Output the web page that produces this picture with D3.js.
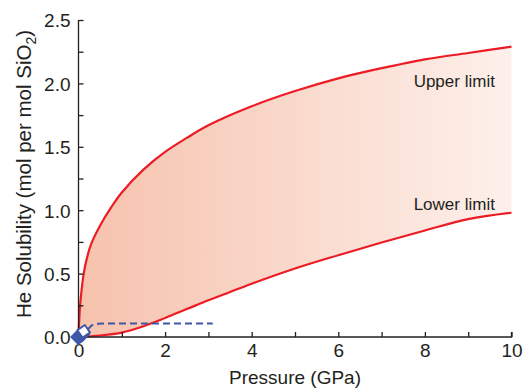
<!DOCTYPE html>
<html>
<head>
<meta charset="utf-8">
<script src="https://cdn.jsdelivr.net/npm/d3@7"></script>
<style>
  body { margin: 0; background: #fff; }
  svg { display: block; }
  text { font-family: "Liberation Sans", Arial, Helvetica, sans-serif; fill: #231f20; }
</style>
</head>
<body>
<svg id="chart" width="525" height="388"></svg>
<script>
// ---- data ----
const upperP = [0, 0.02, 0.05, 0.12, 0.2, 0.3, 0.5, 0.75, 1, 1.5, 2, 2.5, 3, 4, 5, 6, 7, 8, 9, 10];
const upperV = [0, 0.16, 0.3, 0.5, 0.63, 0.74, 0.88, 1.02, 1.14, 1.32, 1.46, 1.57, 1.67, 1.82, 1.94, 2.04, 2.12, 2.19, 2.24, 2.29];
const lowerP = [0, 0.5, 1, 1.5, 2, 2.5, 3, 3.5, 4, 5, 6, 7, 8, 9, 10];
const lowerV = [0, 0.012, 0.035, 0.085, 0.15, 0.22, 0.29, 0.355, 0.42, 0.54, 0.645, 0.745, 0.84, 0.93, 0.98];
const dashP = [0.22, 0.3, 0.45, 1, 2, 3.1];
const dashV = [0.06, 0.09, 0.105, 0.107, 0.107, 0.107];
const markerP = [0, 0.08, 0.12];
const markerV = [0, 0.022, 0.045];
const markerOpen = [false, false, true];
const xTicks = [0, 1, 2, 3, 4, 5, 6, 7, 8, 9, 10];
const xLabels = [0, 2, 4, 6, 8, 10];
const yTicks = [0, 0.25, 0.5, 0.75, 1, 1.25, 1.5, 1.75, 2, 2.25, 2.5];
const yLabels = [0, 0.5, 1, 1.5, 2, 2.5];
const annotations = [{text: "Upper limit", p: 7.74, v: 1.97}, {text: "Lower limit", p: 7.74, v: 1.0}];

// ---- layout ----
const svg = d3.select("#chart");
const x = d3.scaleLinear().domain([0, 10]).range([78.5, 511.5]);
const y = d3.scaleLinear().domain([0, 2.5]).range([337, 20]);

const upper = upperP.map((p, i) => [p, upperV[i]]);
const lower = lowerP.map((p, i) => [p, lowerV[i]]);

// gradient
const defs = svg.append("defs");
const grad = defs.append("linearGradient").attr("id", "band")
  .attr("gradientUnits", "userSpaceOnUse")
  .attr("x1", x(0)).attr("x2", x(10)).attr("y1", 0).attr("y2", 0);
grad.append("stop").attr("offset", "0%").attr("stop-color", "#f6c2ad");
grad.append("stop").attr("offset", "100%").attr("stop-color", "#fdf0eb");

const curve = d3.curveCatmullRom.alpha(0.5);
const line = d3.line().x(d => x(d[0])).y(d => y(d[1])).curve(curve);

// band area: upper forward then lower reversed
const bandPath = line(upper) + "L" + line(lower.slice().reverse()).slice(1) + "Z";
svg.append("path").attr("d", bandPath).attr("fill", "url(#band)").attr("stroke", "none");

svg.append("path").attr("d", line(upper)).attr("fill", "none").attr("stroke", "#ec1c24").attr("stroke-width", 2.2);
svg.append("path").attr("d", line(lower)).attr("fill", "none").attr("stroke", "#ec1c24").attr("stroke-width", 2.2);

// dashed line
const dash = dashP.map((p, i) => [p, dashV[i]]);
svg.append("path").attr("d", d3.line().x(d => x(d[0])).y(d => y(d[1])).curve(d3.curveMonotoneX)(dash))
  .attr("fill", "none").attr("stroke", "#3f57a6").attr("stroke-width", 2)
  .attr("stroke-dasharray", "7,4");

// axes
const axisColor = "#231f20";
const xAxis = d3.axisBottom(x).tickValues(xTicks).tickSizeInner(-5).tickSizeOuter(0)
  .tickFormat(d => xLabels.includes(d) ? d3.format("d")(d) : "");
const gx = svg.append("g").attr("transform", `translate(0,${y(0)})`).call(xAxis);
gx.select(".domain").attr("stroke", axisColor).attr("stroke-width", 1.3).attr("d", `M${x(0)},0H${x(10)}V-5`);
gx.selectAll(".tick line").attr("stroke", axisColor).attr("stroke-width", 1.3);
gx.selectAll(".tick text").attr("font-size", 19).attr("dy", 0).attr("y", 20)
  .style("font-family", '"Liberation Sans", Arial, sans-serif').attr("fill", axisColor);

const yAxis = d3.axisLeft(y).tickValues(yTicks).tickSizeInner(-5).tickSizeOuter(0)
  .tickFormat(d => yLabels.includes(d) ? d3.format(".1f")(d) : "");
const gy = svg.append("g").attr("transform", `translate(${x(0)},0)`).call(yAxis);
gy.select(".domain").attr("stroke", axisColor).attr("stroke-width", 1.3).attr("d", `M0,${y(0)}V${y(2.5)}`);
gy.selectAll(".tick line").attr("stroke", axisColor).attr("stroke-width", 1.3);
gy.selectAll(".tick text").attr("font-size", 19).attr("x", -8).attr("dy", "0.36em")
  .style("font-family", '"Liberation Sans", Arial, sans-serif').attr("fill", axisColor);

// markers
markerP.forEach((p, i) => {
  const open = markerOpen[i];
  const s = open ? 9 : 11;
  svg.append("rect")
    .attr("x", -s / 2).attr("y", -s / 2).attr("width", s).attr("height", s)
    .attr("transform", `translate(${x(p)},${y(markerV[i])}) rotate(${open ? -35 : 45})`)
    .attr("fill", open ? "#ffffff" : "#3f57a6")
    .attr("stroke", "#3f57a6").attr("stroke-width", open ? 1.8 : 1);
});

// axis titles
svg.append("text").attr("x", (x(0) + x(10)) / 2).attr("y", 384)
  .attr("text-anchor", "middle").attr("font-size", 19).text("Pressure (GPa)");
const yt = svg.append("text").attr("transform", `translate(31,174) rotate(-90)`)
  .attr("text-anchor", "middle").attr("font-size", 20.5);
yt.append("tspan").text("He Solubility (mol per mol SiO");
yt.append("tspan").attr("font-size", 14).attr("dy", 5).text("2");
yt.append("tspan").attr("dy", -5).text(")");

// annotations
annotations.forEach(a => {
  svg.append("text").attr("x", x(a.p)).attr("y", y(a.v)).attr("font-size", 17).text(a.text);
});
</script>
</body>
</html>
